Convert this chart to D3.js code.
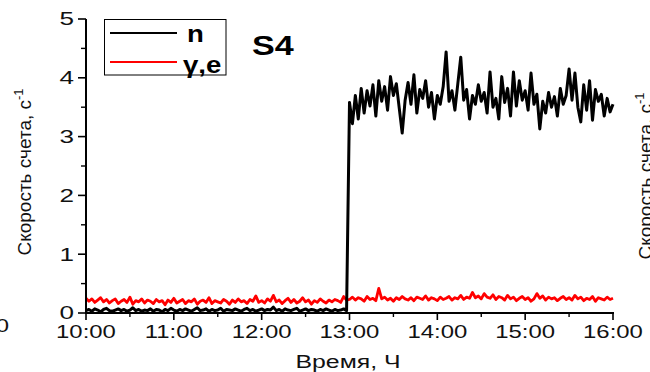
<!DOCTYPE html>
<html>
<head>
<meta charset="utf-8">
<script src="https://cdn.jsdelivr.net/npm/d3@7"></script>
<style>
  html, body { margin: 0; padding: 0; background: #fff; }
  svg { display: block; font-family: Arial, "Liberation Sans", sans-serif; }
</style>
</head>
<body>
<svg id="chart" width="650" height="372"></svg>
<script>
// Count rate of detector S4, sampled every 2 minutes from 10:00 to 16:00
const startHour = 10;
const stepMinutes = 2;

// neutron channel "n"
const nRate = [
  // 10:00 – 12:58
  0.04,0.06,0.03,0.07,0.05,0.02,0.06,0.08,0.04,0.03,
  0.05,0.07,0.04,0.06,0.03,0.05,0.09,0.04,0.06,0.03,
  0.05,0.04,0.07,0.03,0.06,0.05,0.02,0.06,0.04,0.08,
  0.05,0.03,0.06,0.04,0.07,0.05,0.03,0.06,0.09,0.04,
  0.05,0.07,0.03,0.06,0.04,0.05,0.08,0.03,0.06,0.05,
  0.04,0.07,0.05,0.03,0.06,0.08,0.04,0.06,0.03,0.05,
  0.07,0.04,0.06,0.05,0.10,0.04,0.06,0.03,0.07,0.05,
  0.04,0.06,0.08,0.03,0.05,0.07,0.04,0.06,0.05,0.03,
  0.06,0.04,0.07,0.05,0.03,0.06,0.04,0.05,0.07,0.04,
  // 13:00 – 16:00
  3.58,3.22,3.70,3.30,3.82,3.40,3.78,3.52,3.88,3.35,
  3.95,3.60,3.85,3.45,4.02,3.70,3.90,3.48,3.06,3.62,
  3.92,3.55,4.05,3.40,3.80,3.65,3.95,3.50,3.75,3.30,
  3.70,3.55,3.85,4.44,3.60,3.78,3.45,3.90,4.35,3.62,
  3.80,3.30,3.70,3.55,3.88,3.60,3.75,3.40,4.10,3.50,
  3.65,3.30,4.02,3.58,3.82,3.35,4.10,3.52,3.95,3.62,
  3.78,3.45,4.08,3.55,3.72,3.13,3.60,3.40,3.75,3.50,
  3.68,3.35,3.82,3.55,3.70,4.15,3.62,4.08,3.50,3.25,
  3.88,3.45,3.95,3.28,3.80,3.60,3.72,3.35,3.65,3.42,
  3.55
];

// gamma / electron channel "γ,e"
const geRate = [
  // 10:00 – 12:58
  0.25,0.20,0.24,0.18,0.22,0.26,0.19,0.23,0.17,0.21,
  0.24,0.16,0.20,0.23,0.18,0.27,0.15,0.21,0.19,0.24,
  0.17,0.22,0.20,0.16,0.23,0.19,0.21,0.14,0.22,0.18,
  0.25,0.17,0.20,0.23,0.16,0.21,0.19,0.24,0.15,0.20,
  0.22,0.18,0.26,0.16,0.21,0.19,0.17,0.23,0.20,0.15,
  0.22,0.18,0.24,0.19,0.21,0.16,0.23,0.20,0.29,0.18,
  0.21,0.17,0.24,0.20,0.30,0.19,0.22,0.16,0.21,0.25,
  0.18,0.23,0.17,0.20,0.26,0.19,0.22,0.15,0.21,0.18,
  0.24,0.20,0.17,0.22,0.19,0.23,0.21,0.18,0.28,0.22,
  // 13:00 – 16:00
  0.23,0.27,0.22,0.26,0.24,0.20,0.28,0.23,0.25,0.21,
  0.42,0.24,0.27,0.22,0.25,0.20,0.26,0.23,0.28,0.24,
  0.22,0.26,0.21,0.27,0.25,0.23,0.29,0.22,0.26,0.24,
  0.21,0.27,0.23,0.25,0.28,0.22,0.26,0.24,0.30,0.23,
  0.27,0.25,0.35,0.26,0.29,0.24,0.33,0.27,0.25,0.31,
  0.23,0.28,0.26,0.22,0.30,0.24,0.27,0.21,0.25,0.28,
  0.23,0.26,0.20,0.24,0.33,0.25,0.29,0.22,0.27,0.24,
  0.26,0.21,0.25,0.28,0.23,0.26,0.22,0.30,0.24,0.27,
  0.21,0.25,0.23,0.28,0.20,0.26,0.24,0.22,0.27,0.23,
  0.25
];

const xTickHours = [10, 11, 12, 13, 14, 15, 16];
const xTickLabels = ["10:00", "11:00", "12:00", "13:00", "14:00", "15:00", "16:00"];
const yTicks = [0, 1, 2, 3, 4, 5];
const seriesNames = ["n", "γ,e"];
const seriesColors = ["#000000", "#ff0000"];

const svg = d3.select("#chart");
const margin = { left: 86, right: 37, top: 19, bottom: 59 };
const W = 650, H = 372;

const x = d3.scaleLinear().domain([10, 16]).range([margin.left, W - margin.right]);
const y = d3.scaleLinear().domain([0, 5]).range([H - margin.bottom, margin.top]);

// horizontal text in this figure is drawn slightly widened
function wideText(sel, sx) {
  sel.each(function () {
    const t = d3.select(this);
    const ax = +t.attr("x") || 0, ay = +t.attr("y") || 0;
    t.attr("transform", `translate(${ax},${ay}) scale(${sx},1) translate(${-ax},${-ay})`);
  });
}

const hour = i => startHour + i * stepMinutes / 60;
const line = d3.line().x((d, i) => x(hour(i))).y(d => y(d));

// data lines: γ,e underneath, n on top
svg.append("path").datum(geRate)
  .attr("d", line).attr("fill", "none")
  .attr("stroke", seriesColors[1]).attr("stroke-width", 2.8)
  .attr("stroke-linejoin", "round");
svg.append("path").datum(nRate)
  .attr("d", line).attr("fill", "none")
  .attr("stroke", seriesColors[0]).attr("stroke-width", 3)
  .attr("stroke-linejoin", "round");

// axes
const axisColor = "#000";
const xMinor = d3.range(10.5, 16, 1);
const yMinor = d3.range(0.5, 5, 1);

const gx = svg.append("g");
gx.append("line")
  .attr("x1", x(10) - 1).attr("x2", x(16) + 1)
  .attr("y1", y(0)).attr("y2", y(0))
  .attr("stroke", axisColor).attr("stroke-width", 2);
gx.selectAll("line.maj").data(xTickHours).join("line").attr("class", "maj")
  .attr("x1", d => x(d)).attr("x2", d => x(d))
  .attr("y1", y(0)).attr("y2", y(0) + 7)
  .attr("stroke", axisColor).attr("stroke-width", 1.6);
gx.selectAll("line.min").data(xMinor).join("line").attr("class", "min")
  .attr("x1", d => x(d)).attr("x2", d => x(d))
  .attr("y1", y(0)).attr("y2", y(0) + 4)
  .attr("stroke", axisColor).attr("stroke-width", 1.4);
gx.selectAll("text").data(xTickHours).join("text")
  .attr("x", d => x(d)).attr("y", y(0) + 25)
  .attr("text-anchor", "middle").attr("font-size", 18).attr("fill", "#111")
  .text((d, i) => xTickLabels[i])
  .call(wideText, 1.33);

const gy = svg.append("g");
gy.append("line")
  .attr("x1", x(10)).attr("x2", x(10))
  .attr("y1", y(5)).attr("y2", y(0) + 1)
  .attr("stroke", axisColor).attr("stroke-width", 2);
gy.selectAll("line.maj").data(yTicks).join("line").attr("class", "maj")
  .attr("x1", x(10) - 8).attr("x2", x(10))
  .attr("y1", d => y(d)).attr("y2", d => y(d))
  .attr("stroke", axisColor).attr("stroke-width", 1.6);
gy.selectAll("line.min").data(yMinor).join("line").attr("class", "min")
  .attr("x1", x(10) - 5).attr("x2", x(10))
  .attr("y1", d => y(d)).attr("y2", d => y(d))
  .attr("stroke", axisColor).attr("stroke-width", 1.4);
gy.selectAll("text").data(yTicks).join("text")
  .attr("x", x(10) - 12).attr("y", d => y(d) + 6.5)
  .attr("text-anchor", "end").attr("font-size", 18).attr("fill", "#111")
  .text(d => d)
  .call(wideText, 1.45);

// axis titles
svg.append("text")
  .attr("x", 348).attr("y", 368)
  .attr("text-anchor", "middle").attr("font-size", 18).attr("fill", "#111")
  .text("Время, Ч")
  .call(wideText, 1.38);

function yTitle(cx, cy) {
  const t = svg.append("text")
    .attr("transform", `translate(${cx},${cy}) rotate(-90)`)
    .attr("text-anchor", "middle").attr("font-size", 19).attr("fill", "#111");
  t.append("tspan").text("Скорость счета, с");
  t.append("tspan").attr("dy", -8).attr("font-size", 13).text("-1");
}
yTitle(31, 172);
// neighbouring panel's axis title at the right edge
yTitle(652, 176);
// neighbouring panel's last tick label at the left edge
svg.append("text")
  .attr("x", 9).attr("y", 332)
  .attr("text-anchor", "end").attr("font-size", 18).attr("fill", "#111")
  .text("0")
  .call(wideText, 1.33);

// legend
const lg = svg.append("g");
lg.append("rect")
  .attr("x", 104.5).attr("y", 19.5).attr("width", 121.5).attr("height", 55.5)
  .attr("fill", "#fff").attr("stroke", "#000").attr("stroke-width", 1);
const legendRows = [33, 62];
lg.selectAll("line").data(seriesNames).join("line")
  .attr("x1", 110).attr("x2", 177)
  .attr("y1", (d, i) => legendRows[i]).attr("y2", (d, i) => legendRows[i])
  .attr("stroke", (d, i) => seriesColors[i]).attr("stroke-width", 2.2);
lg.selectAll("text").data(seriesNames).join("text")
  .attr("x", (d, i) => i === 0 ? 187 : 183)
  .attr("y", (d, i) => i === 0 ? 42 : 73)
  .attr("font-size", 24).attr("font-weight", "bold").attr("fill", "#000")
  .text(d => d)
  .call(wideText, 1.15);

// panel label
svg.append("text")
  .attr("x", 252).attr("y", 55)
  .attr("font-size", 28).attr("font-weight", "bold").attr("fill", "#000")
  .text("S4")
  .call(wideText, 1.22);
</script>
</body>
</html>
